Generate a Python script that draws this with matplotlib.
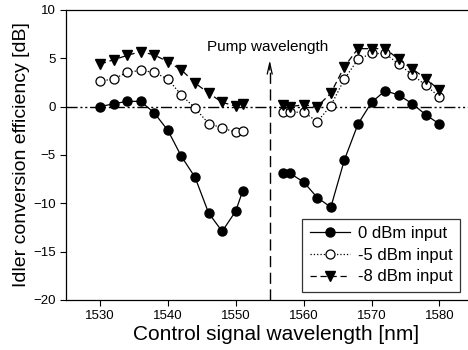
import matplotlib
matplotlib.use("Agg")
import matplotlib.pyplot as plt

plt.rcParams['font.family'] = ['Liberation Sans', 'DejaVu Sans']

# Data
wl_left = [1530, 1532, 1534, 1536, 1538, 1540, 1542, 1544, 1546, 1548, 1550, 1551]
wl_right = [1557, 1558, 1560, 1562, 1564, 1566, 1568, 1570, 1572, 1574, 1576, 1578, 1580]

p0_left = [0.0, 0.3, 0.55, 0.55, -0.65, -2.45, -5.15, -7.3, -11.0, -12.9, -10.8, -8.75]
p0_right = [-6.9, -6.9, -7.8, -9.4, -10.4, -5.5, -1.8, 0.45, 1.65, 1.2, 0.3, -0.85, -1.8]

m5_left = [2.65, 2.85, 3.55, 3.75, 3.55, 2.85, 1.2, -0.15, -1.75, -2.2, -2.65, -2.5]
m5_right = [-0.6, -0.6, -0.55, -1.55, 0.1, 2.85, 4.9, 5.5, 5.5, 4.4, 3.3, 2.2, 1.0]

m8_left = [4.4, 4.85, 5.3, 5.7, 5.35, 4.65, 3.8, 2.45, 1.4, 0.45, 0.05, 0.25]
m8_right = [0.2, 0.0, 0.2, 0.0, 1.4, 4.15, 6.0, 6.0, 6.0, 4.9, 3.9, 2.9, 1.7]

labels = ['0 dBm input', '-5 dBm input', '-8 dBm input']
pump_wl = 1555
xticks = [1530, 1540, 1550, 1560, 1570, 1580]
yticks = [-20, -15, -10, -5, 0, 5, 10]

fig = plt.figure(figsize=(4.68, 3.5), dpi=100)
ax = fig.add_axes([66/468, 1-300/350, 1-66/468, 290/350])

ax.axhline(0, color='black', lw=1.0, linestyle=(0, (8, 2, 1.5, 2, 1.5, 2)), zorder=1)

ms = 6.5
l0, = ax.plot(wl_left, p0_left, '-', color='black', lw=0.9, marker='o', ms=ms,
              mfc='black', mec='black', label=labels[0], zorder=3)
ax.plot(wl_right, p0_right, '-', color='black', lw=0.9, marker='o', ms=ms,
        mfc='black', mec='black', zorder=3)
l5, = ax.plot(wl_left, m5_left, ':', color='black', lw=0.9, marker='o', ms=ms,
              mfc='white', mec='black', mew=0.9, label=labels[1], zorder=3)
ax.plot(wl_right, m5_right, ':', color='black', lw=0.9, marker='o', ms=ms,
        mfc='white', mec='black', mew=0.9, zorder=3)
l8, = ax.plot(wl_left, m8_left, '--', color='black', lw=0.9, marker='v', ms=ms + 0.5,
              mfc='black', mec='black', label=labels[2], zorder=3, dashes=(5, 3))
ax.plot(wl_right, m8_right, '--', color='black', lw=0.9, marker='v', ms=ms + 0.5,
        mfc='black', mec='black', zorder=3, dashes=(5, 3))

# pump wavelength marker
ax.plot([pump_wl, pump_wl], [-20, 4.0], color='black', lw=1.0, dashes=(8, 4), zorder=2)
ax.annotate('', xy=(pump_wl, 5.1), xytext=(pump_wl, 3.5),
            arrowprops=dict(arrowstyle='->,head_length=0.8,head_width=0.18',
                            color='black', lw=0.9))
ax.text(pump_wl - 0.3, 6.2, 'Pump wavelength', ha='center', va='center', fontsize=11)

ax.set_xlim(1525, 1584.2)
ax.set_ylim(-20, 10)
ax.set_xticks(xticks)
ax.set_yticks(yticks)
ax.tick_params(direction='out', length=4, width=0.8, labelsize=9.5)
ax.spines['right'].set_visible(False)
for s in ['left', 'bottom', 'top']:
    ax.spines[s].set_linewidth(0.9)

ax.set_xlabel('Control signal wavelength [nm]', fontsize=15, labelpad=4)
ax.xaxis.set_label_coords((276 - 66) / 402, -0.085)
ax.set_ylabel('Idler conversion efficiency [dB]', fontsize=14, labelpad=2)

leg = ax.legend(handles=[l0, l5, l8], loc='lower right', bbox_to_anchor=(0.98, 0.028),
                borderaxespad=0, fontsize=12, frameon=True, fancybox=False,
                edgecolor='black', handlelength=2.4, borderpad=0.45,
                labelspacing=0.4, handletextpad=0.5)
leg.get_frame().set_linewidth(0.9)

fig.savefig('out.png', dpi=100)
